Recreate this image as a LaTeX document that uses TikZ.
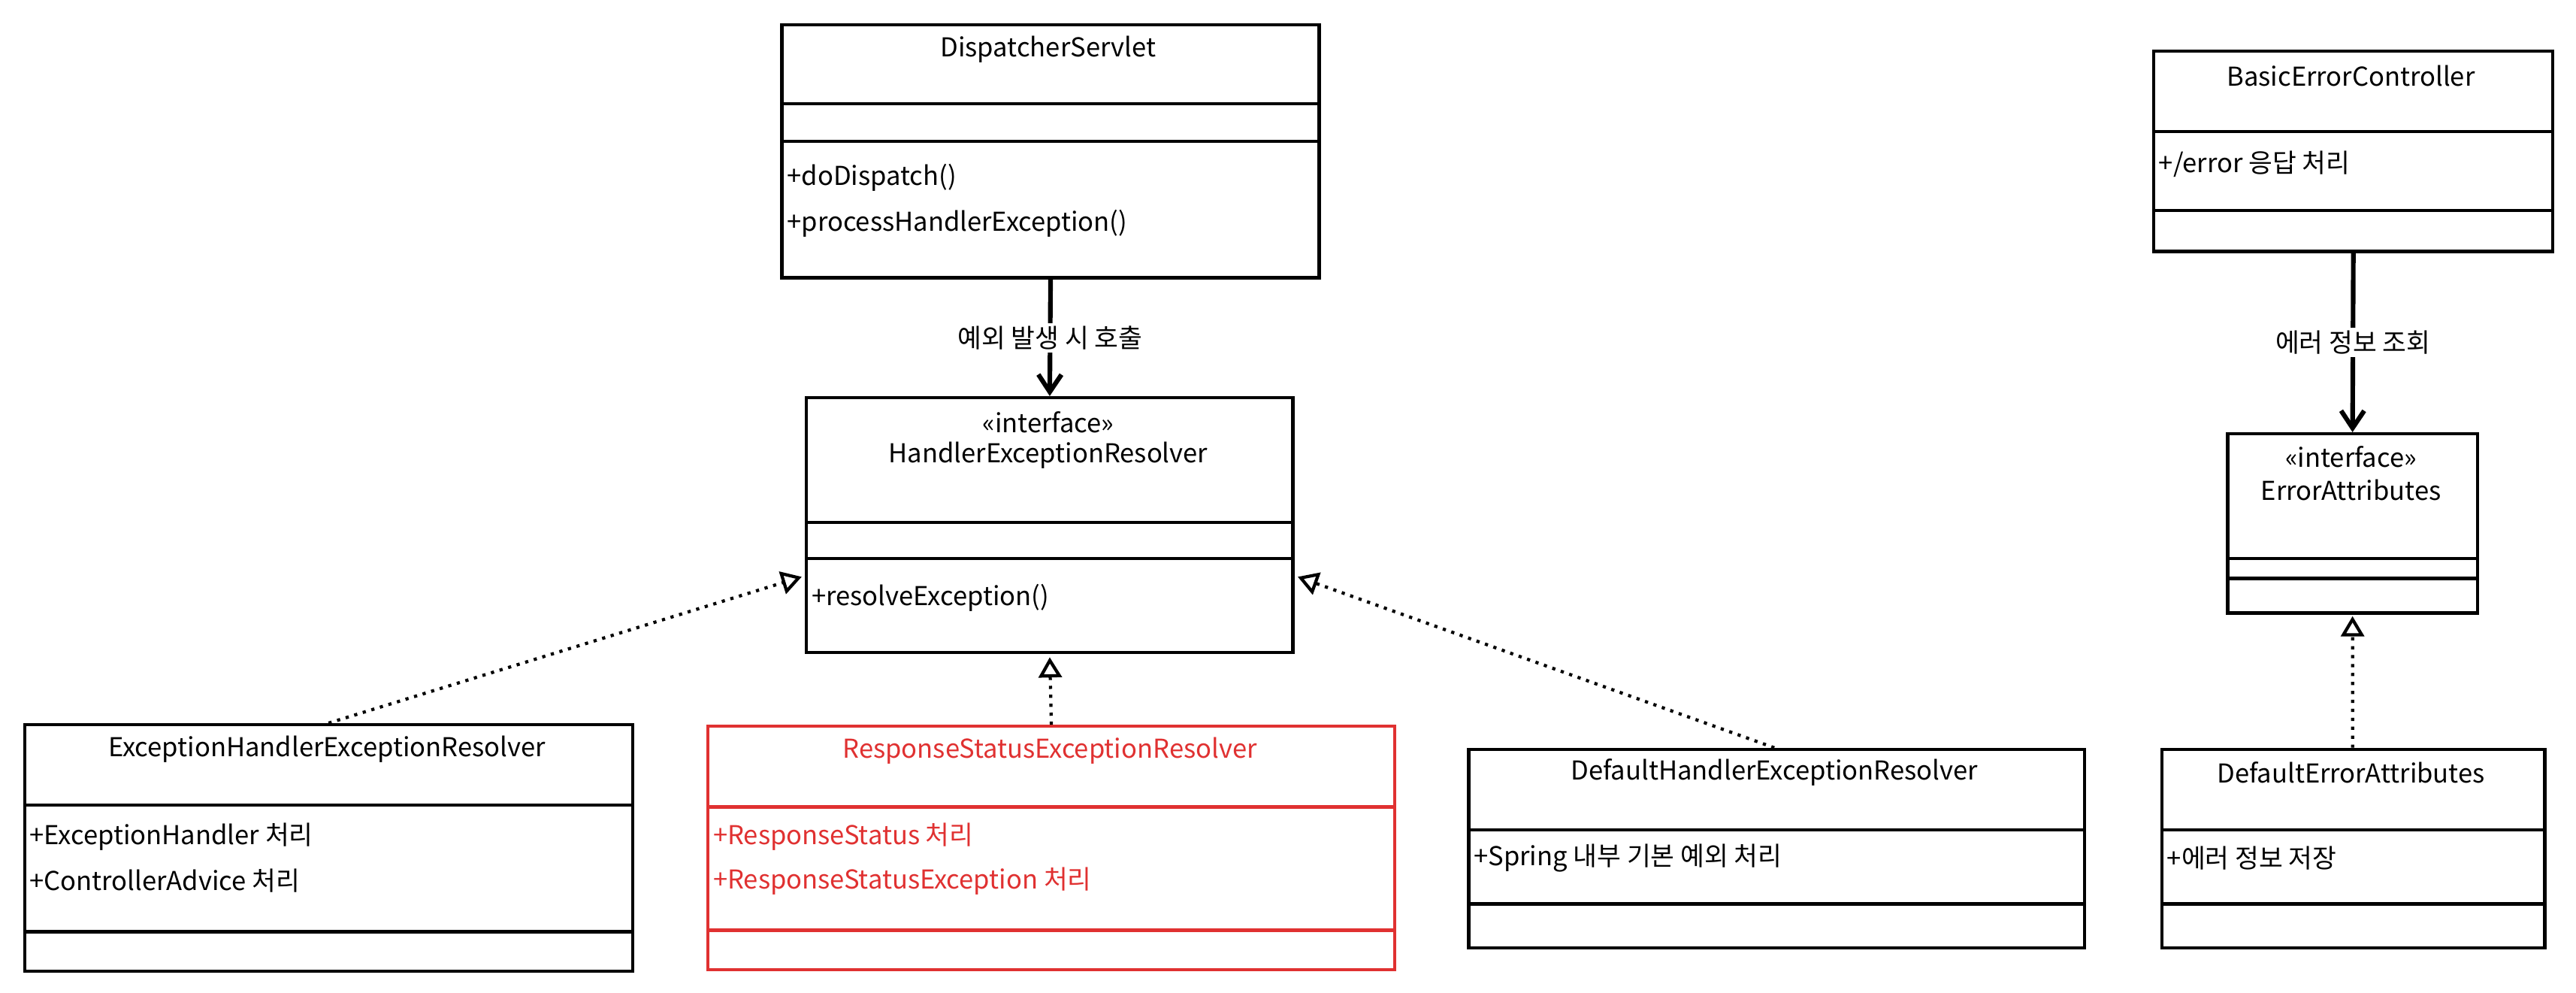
\documentclass[tikz,border=0pt]{standalone}
\usepackage{fontspec}
\setmainfont{Noto Sans CJK KR}
\usetikzlibrary{calc,arrows.meta}
\definecolor{hred}{HTML}{E03131}
\tikzset{
  cls/.style={draw, line width=1.1pt, inner sep=0pt, anchor=north west},
  ttl/.style={font=\small, anchor=center},
  mth/.style={font=\small, anchor=west, inner sep=1pt},
  call/.style={line width=1.6pt, -{Straight Barb[length=6pt,width=8pt]}},
  real/.style={line width=1.1pt, dotted, -{Triangle[open,length=7pt,width=8pt]}}
}
\begin{document}
\begin{tikzpicture}[x=0.02cm,y=-0.02cm]
  \useasboundingbox (0,0) rectangle (1568,604);

  % DispatcherServlet
  \node[cls, minimum width=327*0.02cm, minimum height=154*0.02cm] (ds) at (475,14) {};
  \draw[line width=1.1pt] (475,63) -- (802,63) (475,86) -- (802,86);
  \node[ttl] (dsn) at (638,30) {DispatcherServlet};
  \node[mth] (dsm1) at (477,108) {+doDispatch()};
  \node[mth] (dsm2) at (477,136) {+processHandlerException()};

  % BasicErrorController
  \node[cls, minimum width=243*0.02cm, minimum height=122*0.02cm] (bec) at (1310,30) {};
  \draw[line width=1.1pt] (1310,80) -- (1553,80) (1310,128) -- (1553,128);
  \node[ttl] (becn) at (1431,46) {BasicErrorController};
  \node[mth] (becm) at (1312,100) {+/error 응답 처리};

  % HandlerExceptionResolver
  \node[cls, minimum width=296*0.02cm, minimum height=155*0.02cm] (her) at (490,241) {};
  \draw[line width=1.1pt] (490,318) -- (786,318) (490,340) -- (786,340);
  \node[ttl] (heri) at (638,257) {«interface»};
  \node[ttl] (hern) at (638,277) {HandlerExceptionResolver};
  \node[mth] (herm) at (492,364) {+resolveException()};

  % ErrorAttributes
  \node[cls, minimum width=152*0.02cm, minimum height=109*0.02cm] (ea) at (1355,263) {};
  \draw[line width=1.1pt] (1355,340) -- (1507,340) (1355,352) -- (1507,352);
  \node[ttl] (eai) at (1431,278) {«interface»};
  \node[ttl] (ean) at (1431,298) {ErrorAttributes};

  % ExceptionHandlerExceptionResolver
  \node[cls, minimum width=370*0.02cm, minimum height=150*0.02cm] (eher) at (14,440) {};
  \draw[line width=1.1pt] (14,490) -- (384,490) (14,567) -- (384,567);
  \node[ttl] (ehern) at (199,456) {ExceptionHandlerExceptionResolver};
  \node[mth] (eherm1) at (16,509) {+ExceptionHandler 처리};
  \node[mth] (eherm2) at (16,536) {+ControllerAdvice 처리};

  % ResponseStatusExceptionResolver
  \node[cls, draw=hred, minimum width=418*0.02cm, minimum height=148*0.02cm] (rser) at (430,441) {};
  \draw[line width=1.1pt, hred] (430,491) -- (848,491) (430,566) -- (848,566);
  \node[ttl, text=hred] (rsern) at (639,457) {ResponseStatusExceptionResolver};
  \node[mth, text=hred] (rserm1) at (432,509) {+ResponseStatus 처리};
  \node[mth, text=hred] (rserm2) at (432,536) {+ResponseStatusException 처리};

  % DefaultHandlerExceptionResolver
  \node[cls, minimum width=375*0.02cm, minimum height=121*0.02cm] (dher) at (893,455) {};
  \draw[line width=1.1pt] (893,505) -- (1268,505) (893,550) -- (1268,550);
  \node[ttl] (dhern) at (1080,470) {DefaultHandlerExceptionResolver};
  \node[mth] (dherm) at (895,522) {+Spring 내부 기본 예외 처리};

  % DefaultErrorAttributes
  \node[cls, minimum width=233*0.02cm, minimum height=121*0.02cm] (dea) at (1315,455) {};
  \draw[line width=1.1pt] (1315,505) -- (1548,505) (1315,550) -- (1548,550);
  \node[ttl] (dean) at (1431,470) {DefaultErrorAttributes};
  \node[mth] (deam) at (1317,522) {+에러 정보 저장};

  % connectors
  \draw[call] (ds.south) -- node[fill=white, font=\small, inner sep=1pt] {예외 발생 시 호출} (her.north);
  \draw[call] (bec.south) -- node[fill=white, font=\small, inner sep=1pt] {에러 정보 조회} (ea.north);
  \draw[real] ($(eher.north west)+(186,0)$) -- ($(her.north west)+(-2,110)$);
  \draw[real] (rser.north) -- ($(her.south)+(0,2)$);
  \draw[real] ($(dher.north west)+(187,0)$) -- ($(her.north east)+(2,110)$);
  \draw[real] ($(dea.north west)+(117,0)$) -- ($(ea.south)+(0,1)$);
\end{tikzpicture}
\end{document}
